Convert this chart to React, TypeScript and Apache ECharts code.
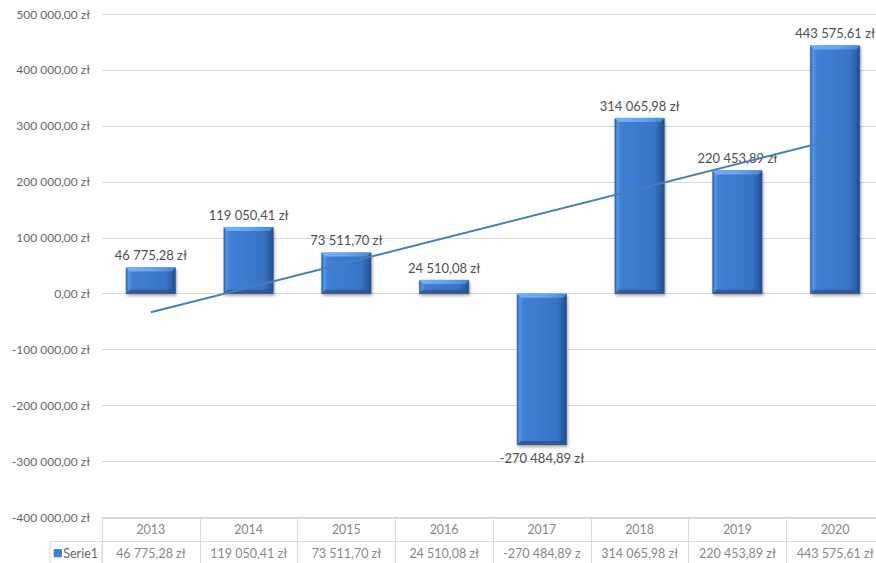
import React, { useEffect, useRef } from "react";
import * as echarts from "echarts";

const years = ["2013", "2014", "2015", "2016", "2017", "2018", "2019", "2020"];
const values = [46775.28, 119050.41, 73511.7, 24510.08, -270484.89, 314065.98, 220453.89, 443575.61];
const tableLabels = [
  "46 775,28 zł",
  "119 050,41 zł",
  "73 511,70 zł",
  "24 510,08 zł",
  "-270 484,89 z",
  "314 065,98 zł",
  "220 453,89 zł",
  "443 575,61 zł",
];
const seriesName = "Serie1";
// linear trendline endpoints (2013 and 2020)
const trendStart = -33200;
const trendEnd = 276100;

const fmt = (v: number) => {
  const neg = v < 0;
  const [i, d] = Math.abs(v).toFixed(2).split(".");
  const grouped = i.replace(/\B(?=(\d{3})+(?!\d))/g, " ");
  return (neg ? "-" : "") + grouped + "," + d + " zł";
};

const FONT = "Lato, 'Open Sans', sans-serif";
const BAR_W = 50;
const BEVEL = 4;

export default function App() {
  const ref = useRef<HTMLDivElement>(null);
  useEffect(() => {
    if (!ref.current) return;
    const chart = echarts.init(ref.current, null, { renderer: "svg" });
    const barGrad = new echarts.graphic.LinearGradient(0, 0, 1, 0, [
      { offset: 0, color: "#2c62ae" },
      { offset: 0.05, color: "#5896e0" },
      { offset: 0.12, color: "#3f80d4" },
      { offset: 0.8, color: "#3874c6" },
      { offset: 0.92, color: "#2c5fa9" },
      { offset: 1, color: "#234c8a" },
    ]);
    const trend = years.map((_, i) => (i === 0 ? trendStart : i === years.length - 1 ? trendEnd : null));
    const cells: any[] = [];
    years.forEach((y, i) => {
      cells.push({ value: [i, 0], label: { formatter: y } });
      cells.push({ value: [i, 1], label: { formatter: tableLabels[i] } });
    });
    const renderBevel = (params: any, api: any) => {
      const i = api.value(0);
      const v = api.value(1);
      const p1 = api.coord([i, v]);
      const p0 = api.coord([i, 0]);
      const x0 = p1[0] - BAR_W / 2;
      const x1 = p1[0] + BAR_W / 2;
      const top = Math.min(p0[1], p1[1]);
      const bot = Math.max(p0[1], p1[1]);
      const b = Math.min(BEVEL, (bot - top) / 3);
      return {
        type: "group",
        children: [
          {
            type: "polygon",
            shape: {
              points: [
                [x0, top],
                [x1, top],
                [x1 - b, top + b],
                [x0 + b, top + b],
              ],
            },
            style: {
              fill: new echarts.graphic.LinearGradient(0, 0, 1, 0, [
                { offset: 0, color: "#7ab0ee" },
                { offset: 0.5, color: "#6aa4ea" },
                { offset: 1, color: "#4f86cc" },
              ]),
            },
          },
          {
            type: "polygon",
            shape: {
              points: [
                [x0, bot],
                [x1, bot],
                [x1 - b, bot - b],
                [x0 + b, bot - b],
              ],
            },
            style: { fill: "#2a5696", opacity: 0.85 },
          },
        ],
      };
    };
    chart.setOption({
      animation: false,
      backgroundColor: "#ffffff",
      textStyle: { fontFamily: FONT },
      grid: [
        { left: 102, top: 14, width: 782, height: 503.5 },
        { left: 102, top: 518, width: 782, height: 47 },
      ],
      xAxis: [
        {
          type: "category",
          gridIndex: 0,
          data: years,
          axisLine: { show: false },
          axisTick: { show: false },
          axisLabel: { show: false },
        },
        {
          type: "category",
          gridIndex: 1,
          data: years,
          axisLine: { show: false },
          axisTick: { show: false },
          axisLabel: { show: false },
          splitLine: { show: true, lineStyle: { color: "#d9d9d9", width: 1 } },
        },
      ],
      yAxis: [
        {
          type: "value",
          gridIndex: 0,
          min: -400000,
          max: 500000,
          interval: 100000,
          axisLine: { show: false },
          axisTick: { show: false },
          axisLabel: {
            formatter: (v: number) => fmt(v),
            color: "#666666",
            fontSize: 12,
            fontFamily: FONT,
            margin: 12,
          },
          splitLine: { lineStyle: { color: "#d9d9d9", width: 1 } },
        },
        {
          type: "category",
          gridIndex: 1,
          inverse: true,
          data: ["", seriesName],
          axisLine: { show: false },
          axisTick: { show: false },
          axisLabel: {
            margin: 4,
            formatter: (v: string) => (v ? "{k|}{t|" + v + "}" : ""),
            rich: {
              k: {
                width: 7,
                height: 7,
                backgroundColor: "#3f7fd4",
                borderColor: "#2a5a9a",
                borderWidth: 0.5,
              },
              t: { color: "#666666", fontSize: 12.5, fontFamily: FONT, padding: [0, 0, 0, 2] },
            },
          },
          splitLine: { show: true, lineStyle: { color: "#d9d9d9", width: 1 } },
        },
      ],
      series: [
        {
          type: "bar",
          xAxisIndex: 0,
          yAxisIndex: 0,
          barWidth: BAR_W,
          data: values.map((v) => ({
            value: v,
            label: { position: v < 0 ? "bottom" : "top" },
          })),
          itemStyle: {
            color: barGrad,
            borderColor: "#2a5a9a",
            borderWidth: 0.6,
            shadowColor: "rgba(0,0,0,0.35)",
            shadowBlur: 3,
            shadowOffsetY: 2,
            shadowOffsetX: 1,
          },
          label: {
            show: true,
            formatter: (p: any) => fmt(p.value),
            color: "#505050",
            fontSize: 13,
            fontFamily: FONT,
            distance: 6,
          },
          z: 2,
        },
        {
          type: "custom",
          xAxisIndex: 0,
          yAxisIndex: 0,
          renderItem: renderBevel,
          data: values.map((v, i) => [i, v]),
          silent: true,
          z: 2.5,
        },
        {
          type: "line",
          xAxisIndex: 0,
          yAxisIndex: 0,
          data: trend,
          connectNulls: true,
          symbol: "none",
          lineStyle: { color: "#4a7ebb", width: 2 },
          z: 3,
        },
        {
          type: "scatter",
          xAxisIndex: 1,
          yAxisIndex: 1,
          symbolSize: 1,
          itemStyle: { color: "transparent" },
          data: cells,
          label: {
            show: true,
            position: "inside",
            color: "#666666",
            fontSize: 12.5,
            fontFamily: FONT,
          },
          silent: true,
        },
      ],
      graphic: [
        {
          type: "rect",
          shape: { x: 50, y: 541.5, width: 52, height: 23.5 },
          style: { fill: "none", stroke: "#d9d9d9", lineWidth: 1 },
          silent: true,
        },
      ],
    });
    return () => chart.dispose();
  }, []);
  return (
    <div
      style={{
        position: "absolute",
        left: 0,
        top: 0,
        width: 876,
        height: 563,
        overflow: "hidden",
        background: "#fff",
      }}
    >
      <div ref={ref} style={{ width: 890, height: 570 }} />
    </div>
  );
}
